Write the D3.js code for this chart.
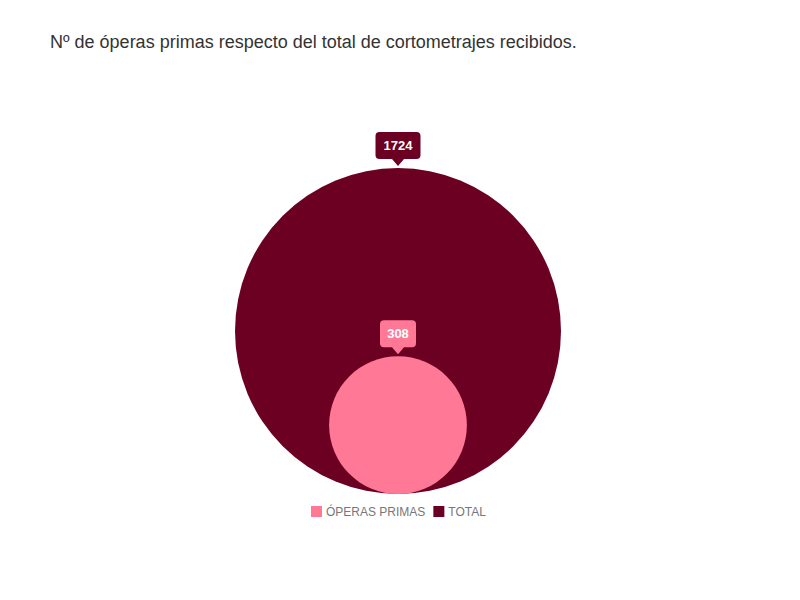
<!DOCTYPE html>
<html>
<head>
  <meta charset="utf-8">
  <script src="https://d3js.org/d3.v7.min.js"></script>
  <style>
    body{margin:0;background:#fff;font-family:"Liberation Sans",Arial,sans-serif;}
    svg{display:block;}
  </style>
</head>
<body>
<svg></svg>
<script type="text/javascript">
  // datos
  var categories = ["ÓPERAS PRIMAS", "TOTAL"];
  var values = [308, 1724];
  var colors = ["#ff7896", "#6b0023"];

  var width = 800, height = 600;
  var cx = 398, baseY = 494;

  var svg = d3.select("svg").attr("width", width).attr("height", height);

  svg.append("text")
    .attr("x", 50).attr("y", 48)
    .style("font-size", "18px")
    .style("fill", "#333")
    .text("Nº de óperas primas respecto del total de cortometrajes recibidos.");

  // radio proporcional al area
  var r = d3.scaleSqrt().domain([0, d3.max(values)]).range([0, 163]);

  var items = categories.map(function(c, i){ return {name: c, value: values[i], color: colors[i]}; });
  // grande primero
  var order = items.slice().sort(function(a, b){ return b.value - a.value; });

  var g = svg.append("g");
  g.selectAll("circle").data(order).enter().append("circle")
    .attr("cx", cx)
    .attr("cy", function(d){ return baseY - r(d.value); })
    .attr("r", function(d){ return r(d.value); })
    .attr("fill", function(d){ return d.color; });

  // etiquetas tipo globo
  var lab = g.selectAll("g.lab").data(order).enter().append("g")
    .attr("class", "lab")
    .attr("transform", function(d){ return "translate(" + cx + "," + (baseY - 2 * r(d.value) - 1) + ")"; });

  lab.each(function(d){
    var s = d3.select(this);
    var w = String(d.value).length > 3 ? 45 : 36;
    s.append("path")
      .attr("d", "M" + (-w/2 + 4) + ",-35 H" + (w/2 - 4) + " Q" + (w/2) + ",-35 " + (w/2) + ",-31 V-12 Q" + (w/2) + ",-8 " + (w/2 - 4) + ",-8 H6 L0,-1 L-6,-8 H" + (-w/2 + 4) + " Q" + (-w/2) + ",-8 " + (-w/2) + ",-12 V-31 Q" + (-w/2) + ",-35 " + (-w/2 + 4) + ",-35 Z")
      .attr("fill", d.color);
    s.append("text")
      .attr("y", -17)
      .attr("text-anchor", "middle")
      .style("font-size", "13px")
      .style("font-weight", "bold")
      .style("fill", "#fff")
      .text(d.value);
  });

  // leyenda
  var legend = svg.append("g").attr("transform", "translate(311,506)");
  var lx = 0;
  items.forEach(function(d){
    var it = legend.append("g").attr("transform", "translate(" + lx + ",0)");
    it.append("rect").attr("width", 11).attr("height", 11).attr("fill", d.color);
    var t = it.append("text").attr("x", 15).attr("y", 10)
      .style("font-size", "12px").style("fill", "#777").text(d.name);
    lx += 15 + t.node().getComputedTextLength() + 8;
  });
</script>
</body>
</html>
